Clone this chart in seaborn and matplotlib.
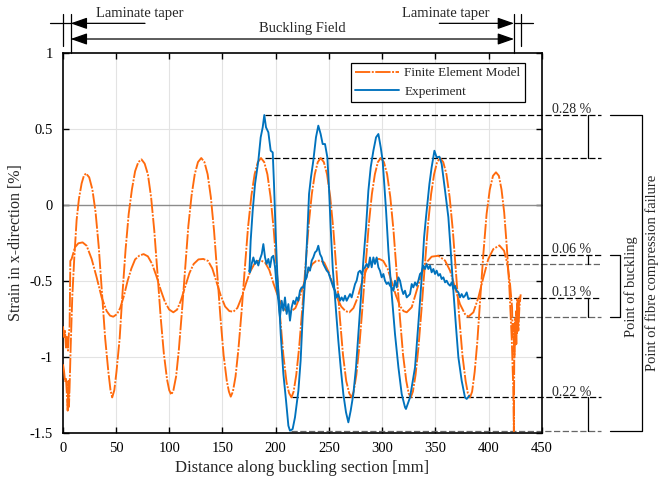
import numpy as np
import pandas as pd
import matplotlib
matplotlib.use("Agg")
import matplotlib.pyplot as plt
import seaborn as sns

# ---- data (distance in mm, strain in %) ----
fe_top_x = [0.3, 1.2, 2.2, 3.1, 4.0, 4.7, 5.3, 5.9, 6.5,
            7.5, 9.0, 10.9, 13.1, 15.3, 17.8, 19.9, 21.9, 24.9, 27.9, 30.9, 33.9, 36.9, 39.9, 42.9, 44.9, 46.5,
            48.5, 50.5, 53.5, 56.0, 59.0, 62.0, 65.0, 68.0, 71.0, 74.0,
            77.0, 80.0, 83.0, 86.0, 89.0, 92.0, 95.0, 98.0, 100.0, 102.0,
            104.0, 106.5, 109.0, 112.0, 115.0, 118.0, 121.0, 124.0, 127.0, 130.1,
            133.1, 136.1, 139.1, 142.1, 145.1, 148.1, 151.1, 154.1, 156.1, 157.8,
            159.8, 162.3, 165.0, 168.0, 171.0, 174.0, 177.2, 180.2, 183.2, 186.2,
            189.2, 192.2, 195.2, 198.2, 201.2, 204.2, 207.2, 210.2, 212.6, 214.8,
            216.8, 219.3, 222.0, 225.0, 228.0, 231.0, 233.9, 236.7, 239.5, 242.2,
            245.2, 248.2, 251.2, 254.2, 257.2, 260.2, 263.2, 266.2, 269.0, 271.2,
            273.2, 275.7, 278.4, 281.4, 284.4, 287.4, 290.3, 293.1, 295.9, 298.6,
            301.6, 304.6, 307.6, 310.6, 313.6, 316.6, 319.6, 322.6, 324.8, 326.8,
            328.8, 331.3, 334.0, 337.0, 340.0, 343.0, 345.9, 348.7, 351.5, 354.3,
            357.3, 360.3, 363.3, 366.3, 369.3, 372.3, 375.3, 378.3, 380.4, 382.4,
            384.4, 386.8, 389.3, 392.0, 395.0, 398.0, 401.0, 404.0, 406.8,
            409.5, 412.0, 414.5, 417.0, 419.4, 421.6, 423.0, 423.6,
            424.0, 424.6, 425.2, 425.8, 426.4, 427.0, 427.6, 428.3, 429.0]
fe_top_y = [-1.05, -1.09, -1.16, -1.14, -1.25, -1.355, -1.16, -1.33, -1.20,
            -0.94, -0.61, -0.35, -0.10, 0.04, 0.14, 0.19, 0.206, 0.18, 0.10, -0.05, -0.28, -0.58, -0.88, -1.10, -1.22, -1.268,
            -1.22, -1.10, -0.88, -0.60, -0.30, -0.06, 0.10, 0.22, 0.28, 0.298,
            0.27, 0.20, 0.05, -0.17, -0.45, -0.74, -0.98, -1.15, -1.22, -1.25,
            -1.22, -1.13, -0.96, -0.70, -0.42, -0.14, 0.06, 0.20, 0.28, 0.307,
            0.28, 0.20, 0.05, -0.17, -0.45, -0.74, -0.99, -1.16, -1.23, -1.263,
            -1.23, -1.13, -0.95, -0.70, -0.42, -0.15, 0.06, 0.20, 0.28, 0.307,
            0.28, 0.20, 0.05, -0.17, -0.45, -0.74, -0.99, -1.17, -1.24, -1.268,
            -1.23, -1.12, -0.94, -0.68, -0.40, -0.13, 0.07, 0.20, 0.28, 0.307,
            0.28, 0.20, 0.05, -0.17, -0.45, -0.74, -0.99, -1.16, -1.24, -1.268,
            -1.23, -1.12, -0.94, -0.68, -0.40, -0.13, 0.07, 0.20, 0.28, 0.307,
            0.28, 0.20, 0.05, -0.17, -0.45, -0.74, -0.99, -1.16, -1.24, -1.268,
            -1.23, -1.12, -0.94, -0.68, -0.40, -0.13, 0.07, 0.20, 0.28, 0.307,
            0.28, 0.20, 0.05, -0.17, -0.45, -0.74, -0.99, -1.16, -1.24, -1.268,
            -1.23, -1.10, -0.90, -0.62, -0.32, -0.06, 0.10, 0.19, 0.213,
            0.19, 0.10, -0.05, -0.28, -0.55, -0.88, -1.20, -1.49,
            -0.95, -0.78, -0.92, -0.70, -0.85, -0.62, -0.80, -0.66, -0.60]

fe_bot_x = [0.3, 1.2, 2.2, 3.1, 4.0, 5.0, 5.9, 6.5,
            7.2, 8.4, 11.5, 14.7, 18.7, 22.5, 27.2, 31.9, 36.6, 41.3, 44.5, 47.5,
            51.0, 54.0, 57.5, 61.0, 64.5, 68.0, 72.0, 76.0, 80.0, 84.0, 88.0, 92.0, 96.0, 100.0, 103.9,
            107.5, 111.0, 115.0, 119.0, 123.0, 127.5, 132.0, 136.5, 140.5, 144.5, 148.5, 152.5, 156.5, 160.2,
            164.0, 168.0, 172.0, 176.0, 180.0, 183.0, 186.2, 190.0, 194.0, 198.0, 202.0, 206.0, 210.0, 214.5,
            218.5, 222.5, 226.5, 230.5, 234.5, 238.0, 241.6, 245.5, 249.5, 253.5, 257.5, 261.5, 265.5, 269.1,
            273.0, 277.0, 281.0, 285.0, 289.0, 293.0, 297.3, 301.0, 305.0, 309.0, 313.0, 317.0, 320.0, 323.0,
            327.7, 332.3, 337.0, 341.7, 346.4, 352.7, 359.0, 363.7, 368.3, 373.0, 377.7, 380.9,
            385.6, 390.3, 395.0, 399.6, 404.3, 410.0, 414.4, 417.5, 420.0, 421.9,
            422.5, 423.1, 424.1, 425.0, 425.9, 426.9, 427.8, 428.8, 430.0]
fe_bot_y = [-0.80, -0.87, -0.83, -0.94, -0.87, -0.96, -0.84, -0.81,
            -0.37, -0.357, -0.281, -0.254, -0.248, -0.27, -0.357, -0.478, -0.61, -0.70, -0.73, -0.737,
            -0.72, -0.68, -0.60, -0.50, -0.42, -0.36, -0.335, -0.325, -0.34, -0.39, -0.47, -0.56, -0.64, -0.69, -0.708,
            -0.69, -0.63, -0.54, -0.45, -0.39, -0.36, -0.357, -0.37, -0.42, -0.51, -0.60, -0.67, -0.70, -0.704,
            -0.68, -0.61, -0.52, -0.44, -0.39, -0.37, -0.368, -0.38, -0.43, -0.52, -0.60, -0.67, -0.70, -0.702,
            -0.68, -0.61, -0.52, -0.44, -0.39, -0.37, -0.368, -0.38, -0.44, -0.52, -0.61, -0.67, -0.70, -0.708,
            -0.68, -0.61, -0.51, -0.43, -0.38, -0.36, -0.357, -0.37, -0.42, -0.51, -0.60, -0.67, -0.70, -0.708,
            -0.675, -0.566, -0.456, -0.379, -0.342, -0.336, -0.368, -0.434, -0.544, -0.654, -0.72, -0.737,
            -0.708, -0.61, -0.478, -0.357, -0.292, -0.268, -0.303, -0.39, -0.522, -0.675,
            -0.873, -0.785, -1.004, -0.741, -0.917, -0.654, -0.829, -0.675, -0.59]

exp_top_x = [175.3, 176.5, 178.4, 180.6, 183.7, 185.9, 187.8, 189.3, 190.9, 193.1, 195.3, 197.2, 198.4,
             200.0, 201.5, 203.1, 204.7, 207.2, 209.7, 211.9, 213.4, 215.9, 218.1, 221.3, 223.4, 225.3,
             227.5, 229.7, 231.3, 233.1, 235.3, 237.8, 240.0, 242.2, 244.1, 246.3, 248.5, 250.0, 251.6,
             253.5, 256.6, 258.8, 261.0, 263.5, 266.0, 268.2, 270.4, 272.9, 275.4, 277.6, 279.8, 282.3,
             284.8, 287.0, 289.2, 291.7, 294.2, 296.4, 298.6, 300.4, 301.7, 303.6, 305.8, 308.9, 312.0,
             315.2, 318.3, 321.4, 322.3, 326.1, 330.8, 333.9, 337.1, 339.3, 341.1, 344.3, 346.4, 349.0,
             351.1, 353.7, 355.8, 359.0, 362.1, 364.3, 366.8, 369.3, 371.5, 374.6, 377.7, 379.3, 381.8]
exp_top_y = [-0.44, -0.237, -0.039, 0.136, 0.289, 0.443, 0.509, 0.59, 0.509, 0.476, 0.355, 0.344, 0.136,
             -0.193, -0.456, -0.632, -0.851, -1.114, -1.289, -1.454, -1.487, -1.476, -1.399, -1.224, -1.026, -0.741,
             -0.5, -0.193, 0.07, 0.18, 0.289, 0.443, 0.52, 0.465, 0.399, 0.399, 0.311, 0.114, -0.149,
             -0.412, -0.697, -0.895, -1.07, -1.246, -1.366, -1.432, -1.355, -1.246, -1.07, -0.851, -0.632, -0.368,
             -0.149, 0.092, 0.246, 0.355, 0.443, 0.465, 0.377, 0.289, 0.158, -0.039, -0.303, -0.588, -0.851,
             -1.07, -1.246, -1.333, -1.344, -1.268, -1.07, -0.785, -0.478, -0.215, -0.083, 0.136, 0.246, 0.355,
             0.311, 0.316, 0.268, 0.092, -0.083, -0.303, -0.566, -0.807, -1.004, -1.158, -1.268, -1.278, -1.257]

exp_bot_x = [175.2, 175.9, 177.4, 179.0, 180.6, 182.1, 183.7, 185.3, 186.9, 188.4, 190.0, 191.5, 193.1,
             194.7, 196.2, 197.8, 199.4, 200.9, 202.5, 204.0, 205.6, 207.2, 208.7, 210.3, 211.9, 213.4,
             215.0, 216.6, 218.1, 219.7, 221.2, 222.8, 224.4, 225.9, 227.5, 229.1, 230.6, 232.2, 233.8,
             235.3, 236.9, 238.5, 240.0, 241.6, 243.2, 244.7, 246.3, 247.9, 249.4, 251.0, 252.5, 254.1,
             255.7, 257.2, 258.8, 260.4, 261.9, 263.5, 265.1, 266.6, 268.2, 269.8, 271.3, 272.9, 274.5,
             276.0, 277.6, 279.2, 280.7, 282.3, 283.9, 285.4, 287.0, 288.5, 290.1, 291.7, 293.2, 294.8,
             296.4, 297.9, 299.5, 301.1, 302.6, 304.2, 305.8, 307.3, 308.9, 310.5, 312.0, 313.6, 315.2,
             316.7, 318.3, 319.8, 321.4, 323.0, 324.6, 326.1, 327.7, 329.2, 330.8, 332.3, 333.9, 335.5,
             337.0, 338.6, 340.2, 341.7, 343.3, 344.9, 346.4, 348.0, 349.6, 351.1, 352.7, 354.3, 355.8,
             357.4, 359.0, 360.5, 362.1, 363.7, 365.2, 366.8, 368.3, 369.9, 371.5, 373.0, 374.6, 376.2,
             377.7, 379.3, 380.9, 382.4]
exp_bot_y = [-0.434, -0.445, -0.39, -0.347, -0.39, -0.368, -0.40, -0.357, -0.325, -0.259, -0.347, -0.39, -0.357,
             -0.412, -0.347, -0.336, -0.412, -0.544, -0.632, -0.741, -0.632, -0.697, -0.61, -0.719, -0.654, -0.763,
             -0.675, -0.632, -0.654, -0.61, -0.632, -0.566, -0.544, -0.544, -0.5, -0.478, -0.412, -0.434, -0.368,
             -0.347, -0.314, -0.303, -0.27, -0.325, -0.347, -0.39, -0.412, -0.434, -0.445, -0.478, -0.511, -0.544,
             -0.566, -0.61, -0.588, -0.632, -0.61, -0.632, -0.599, -0.632, -0.61, -0.588, -0.61, -0.566, -0.522,
             -0.5, -0.445, -0.434, -0.456, -0.423, -0.412, -0.39, -0.412, -0.347, -0.412, -0.347, -0.39, -0.347,
             -0.412, -0.434, -0.478, -0.456, -0.5, -0.522, -0.511, -0.533, -0.544, -0.566, -0.5, -0.544, -0.478,
             -0.5, -0.555, -0.588, -0.566, -0.61, -0.599, -0.588, -0.522, -0.544, -0.511, -0.533, -0.5, -0.456,
             -0.445, -0.401, -0.423, -0.39, -0.423, -0.401, -0.445, -0.423, -0.456, -0.434, -0.467, -0.456, -0.489,
             -0.478, -0.511, -0.5, -0.522, -0.533, -0.511, -0.555, -0.533, -0.566, -0.577, -0.61, -0.588, -0.61,
             -0.599, -0.577, -0.621, -0.616]

# difference markers: upper level, lower level, label, where each dashed line starts
gap_upper = [0.59, -0.331, -0.616, -1.268]
gap_lower = [0.307, -0.393, -0.741, -1.49]
gap_labels = ["0.28 %", "0.06 %", "0.13 %", "0.22 %"]
gap_start_upper = [190.0, 351.0, 382.4, 214.9]
gap_start_lower = [190.0, 341.8, 379.0, 214.0]
gap_lower_grey = [False, True, True, True]

ORANGE = "#FF6A0D"
BLUE = "#0072BD"
FE_DASH = (0, (11, 1.1, 1.4, 1.1))

sns.set_theme(style="ticks")
plt.rcParams["font.family"] = ["Liberation Serif", "DejaVu Serif"]
plt.rcParams["axes.unicode_minus"] = False
plt.rcParams["lines.scale_dashes"] = False

fig = plt.figure(figsize=(6.66, 4.86), dpi=100)
ax = fig.add_axes([0.0941, 0.1097, 0.7197, 0.7819])

# grid + zero line
for xv in range(50, 450, 50):
    ax.axvline(xv, color="#e3e3e3", lw=0.8, zorder=0)
for yv in [-1.0, -0.5, 0.5]:
    ax.axhline(yv, color="#e3e3e3", lw=0.8, zorder=0)
ax.axhline(0, color="0.55", lw=1.0, zorder=1)

series = [
    (fe_top_x, fe_top_y, ORANGE, FE_DASH, "Finite Element Model"),
    (fe_bot_x, fe_bot_y, ORANGE, FE_DASH, None),
    (exp_top_x, exp_top_y, BLUE, "-", "Experiment"),
    (exp_bot_x, exp_bot_y, BLUE, "-", None),
]
handles = []
for xs, ys, col, ls, lab in series:
    df = pd.DataFrame({"x": xs, "y": ys})
    sns.lineplot(data=df, x="x", y="y", sort=False, estimator=None, ax=ax,
                 color=col, linestyle=ls, lw=1.35, zorder=3)
    if lab is not None:
        handles.append((ax.lines[-1], lab))

ax.set_xlim(0, 450)
ax.set_ylim(-1.5, 1)
ax.set_xticks(range(0, 451, 50))
ax.set_yticks([-1.5, -1, -0.5, 0, 0.5, 1], ["-1.5", "-1", "-0.5", "0", "0.5", "1"])
ax.tick_params(direction="in", top=True, right=True, length=4, width=1, labelsize=10.5, colors="black")
ax.tick_params(axis="y", pad=7)
ax.tick_params(axis="x", pad=7)
for sp in ax.spines.values():
    sp.set_linewidth(1.2)
    sp.set_color("black")
ax.set_xlabel("Distance along buckling section [mm]", fontsize=12, labelpad=3)
ax.set_ylabel("Strain in x-direction [%]", fontsize=11.5, labelpad=4)

leg = ax.legend([h for h, _ in handles], [l for _, l in handles], loc="upper right",
                bbox_to_anchor=(0.9645, 0.974), borderaxespad=0, fontsize=9.5,
                handlelength=3.3, handletextpad=0.4, labelspacing=0.45, borderpad=0.35,
                fancybox=False, framealpha=1, edgecolor="black")
leg.get_frame().set_linewidth(0.9)

# difference annotations on the right
x_end = 505.4
x_bar = 493.0
x_lab = 478.0
for up, lo, lab, xu, xl, grey in zip(gap_upper, gap_lower, gap_labels,
                                     gap_start_upper, gap_start_lower, gap_lower_grey):
    ax.plot([xu, x_end], [up, up], color="black", lw=0.9, ls=(0, (4.5, 1.8)), clip_on=False, zorder=2)
    ax.plot([xl, x_end], [lo, lo], color="0.4" if grey else "black", lw=0.9,
            ls=(0, (4.5, 1.8)), clip_on=False, zorder=2)
    ax.plot([x_bar, x_bar], [up, lo], color="black", lw=0.9, clip_on=False)
    ax.text(x_lab, up + 0.012, lab, ha="center", va="baseline", fontsize=10, clip_on=False)

# brackets
bx0, bx1 = 514.1, 543.7
ax.plot([bx0, bx1, bx1, bx0], [gap_upper[0], gap_upper[0], gap_lower[3], gap_lower[3]],
        color="black", lw=0.9, clip_on=False)
cx1 = 523.5
ax.plot([bx0, cx1, cx1, bx0], [gap_upper[1], gap_upper[1], gap_lower[2], gap_lower[2]],
        color="black", lw=0.9, clip_on=False)
ax.text(533.5, (gap_upper[1] + gap_lower[2]) / 2, "Point of buckling", rotation=90,
        ha="center", va="center", fontsize=10.5, clip_on=False)
ax.text(553.5, (gap_upper[0] + gap_lower[3]) / 2, "Point of fibre compression failure", rotation=90,
        ha="center", va="center", fontsize=10.5, clip_on=False)

# zone markers above the axes
y_top, y_tick, y_taper, y_field = 1.257, 1.046, 1.193, 1.09
x_l0, x_l1, x_r0, x_r1 = 0.6, 7.5, 423.8, 430.0
for xv, yb in [(x_l0, y_tick), (x_l1, 1.0), (x_r0, 1.0), (x_r1, y_tick)]:
    ax.plot([xv, xv], [yb, y_top], color="black", lw=0.9, clip_on=False)
ax.plot([-11.9, x_l1], [y_taper, y_taper], color="black", lw=0.9, clip_on=False)
ax.plot([x_r0, 441.9], [y_taper, y_taper], color="black", lw=0.9, clip_on=False)
arrow = dict(arrowstyle="-|>,head_length=1.0,head_width=0.35", color="black", lw=0.9,
             shrinkA=0, shrinkB=0, mutation_scale=10)
ax.annotate("", xy=(x_l1, y_taper), xytext=(77.3, y_taper), arrowprops=arrow, annotation_clip=False)
ax.annotate("", xy=(x_r0, y_taper), xytext=(353.6, y_taper), arrowprops=arrow, annotation_clip=False)
ax.annotate("", xy=(x_l1, y_field), xytext=(x_r0, y_field),
            arrowprops=dict(arrow, arrowstyle="<|-|>,head_length=1.0,head_width=0.35"),
            annotation_clip=False)
ax.text(72.4, 1.259, "Laminate taper", ha="center", va="center", fontsize=10.5, clip_on=False)
ax.text(359.7, 1.259, "Laminate taper", ha="center", va="center", fontsize=10.5, clip_on=False)
ax.text(224.7, 1.158, "Buckling Field", ha="center", va="center", fontsize=10.5, clip_on=False)

fig.savefig("out.png", dpi=100)
